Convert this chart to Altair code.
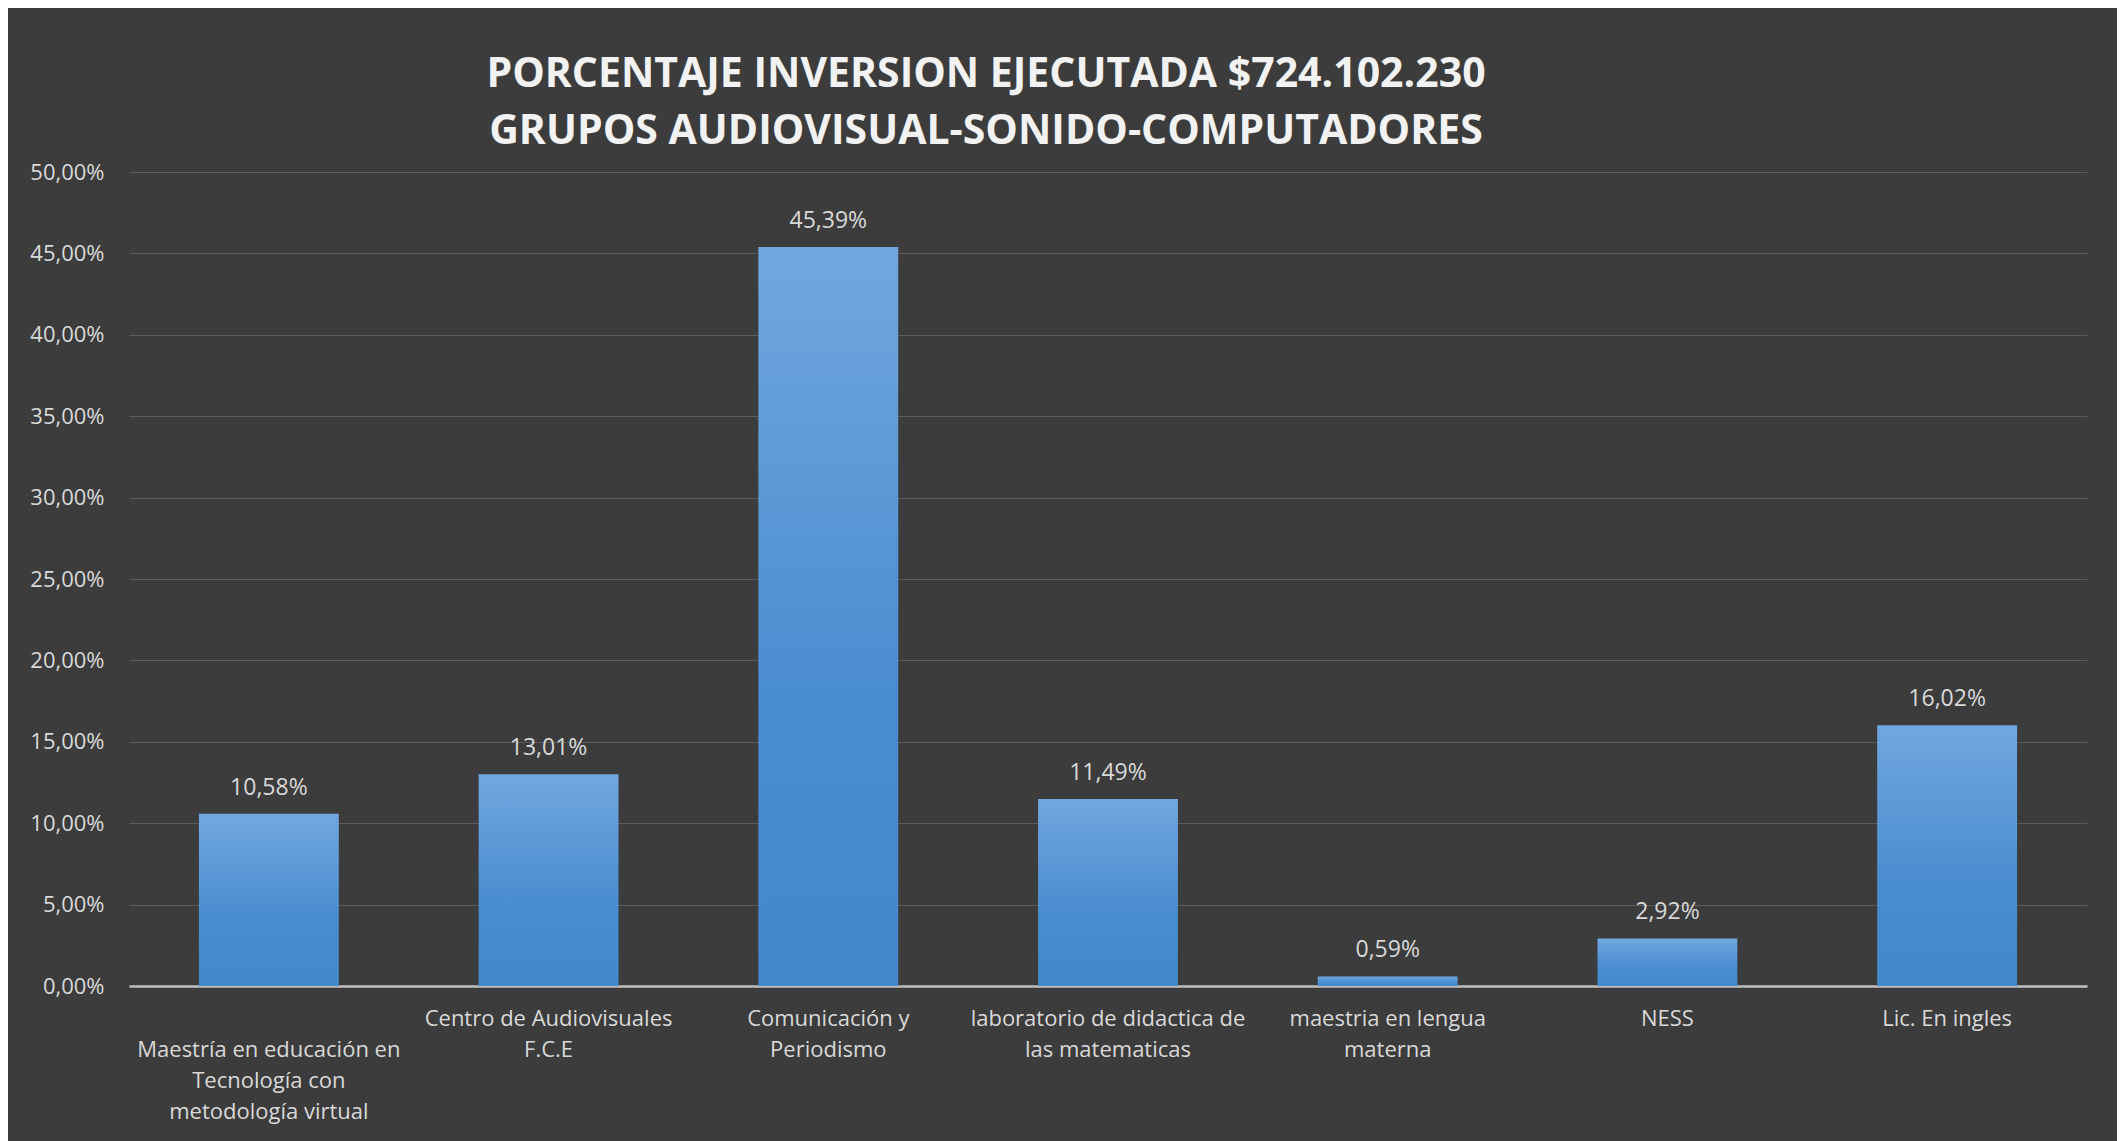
import altair as alt
import pandas as pd

categories = [
    "|Maestría en educación en|Tecnología con|metodología virtual",
    "Centro de Audiovisuales|F.C.E",
    "Comunicación y|Periodismo",
    "laboratorio de didactica de|las matematicas",
    "maestria en  lengua|materna",
    "NESS",
    "Lic. En ingles",
]
values = [10.58, 13.01, 45.39, 11.49, 0.59, 2.92, 16.02]
y_ticks = [0, 5, 10, 15, 20, 25, 30, 35, 40, 45, 50]
title_lines = [
    "PORCENTAJE  INVERSION  EJECUTADA  $724.102.230",
    "GRUPOS  AUDIOVISUAL-SONIDO-COMPUTADORES",
]

df = pd.DataFrame({"cat": categories, "val": values})
df["lbl"] = [f"{v:.2f}".replace(".", ",") + "%" for v in values]

FONT = "Open Sans"
TXT = "#d9d9d9"

x_enc = alt.X(
    "cat:N",
    sort=None,
    title=None,
    scale=alt.Scale(paddingInner=0.5, paddingOuter=0.25),
    axis=alt.Axis(
        labelAngle=0,
        labelExpr="split(datum.label, '|')",
        labelBaseline="top",
        labelLineHeight=31,
        labelPadding=22,
        labelFontSize=22,
        labelFont=FONT,
        labelColor=TXT,
        labelLimit=0,
        ticks=False,
        domainColor="#bfbfbf",
        domainWidth=2.5,
        grid=False,
    ),
)

y_enc = alt.Y(
    "val:Q",
    title=None,
    scale=alt.Scale(domain=[0, 50], nice=False),
    axis=alt.Axis(
        values=y_ticks,
        labelExpr="replace(format(datum.value, '.2f'), '.', ',') + '%'",
        labelFontSize=22,
        labelFont=FONT,
        labelColor=TXT,
        labelPadding=25,
        ticks=False,
        domain=False,
        grid=True,
        gridColor="#5c5c5c",
        gridWidth=1.2,
    ),
)

grad = alt.Gradient(
    gradient="linear",
    x1=0, y1=0, x2=0, y2=1,
    stops=[
        alt.GradientStop(color="#71a7de", offset=0),
        alt.GradientStop(color="#4a8dd0", offset=0.6),
        alt.GradientStop(color="#4388ca", offset=1),
    ],
)

bars = alt.Chart(df).mark_bar(color=grad).encode(x=x_enc, y=y_enc)

texts = alt.Chart(df).mark_text(
    baseline="bottom", dy=-14, fontSize=23, font=FONT, color=TXT
).encode(x=alt.X("cat:N", sort=None), y=alt.Y("val:Q"), text="lbl:N")

chart = (
    alt.layer(bars, texts)
    .properties(
        width=1958,
        height=814,
        background="#3c3c3c",
        padding={"left": 121, "top": 164, "right": 30, "bottom": 155},
        autosize=alt.AutoSizeParams(type="none"),
        title=alt.TitleParams(
            text=title_lines,
            anchor="middle",
            frame="group",
            dx=-122,
            offset=8,
            font=FONT,
            fontSize=41,
            fontWeight="bold",
            color="#f2f2f2",
            lineHeight=57,
        ),
    )
    .configure_view(stroke=None)
)

chart.save("out.html", embed_options={"renderer": "svg", "actions": False})
